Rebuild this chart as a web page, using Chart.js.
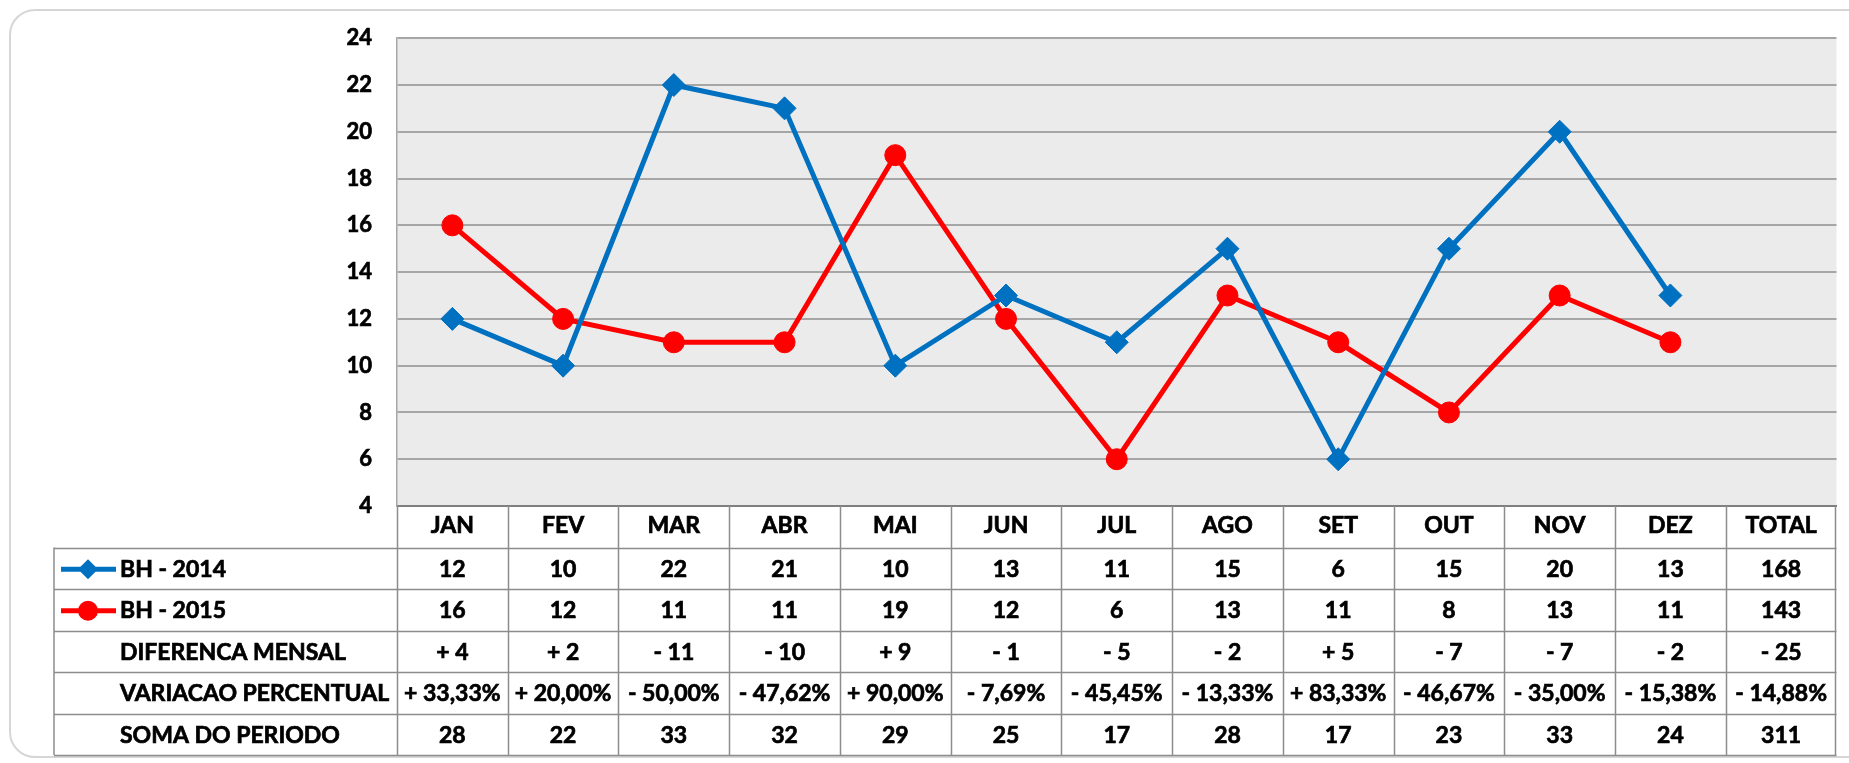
<!DOCTYPE html>
<html lang="pt-BR">
<head>
<meta charset="utf-8">
<title>BH 2014 x BH 2015</title>
<script src="https://cdn.jsdelivr.net/npm/chart.js"></script>
<style>
	html, body { margin: 0; padding: 0; background: #fff; overflow: hidden; }
	#moldura { position: absolute; left: 9px; top: 9px; width: 1900px; height: 745px; border: 2px solid #d6d6d6; border-radius: 26px; }
	#grafico { position: absolute; left: 0; top: 0; }
</style>
</head>
<body>
<div id="moldura"></div>
<canvas id="grafico" width="1849" height="763"></canvas>
<script>

	// Dados do grafico
	const meses = ['JAN', 'FEV', 'MAR', 'ABR', 'MAI', 'JUN', 'JUL', 'AGO', 'SET', 'OUT', 'NOV', 'DEZ', 'TOTAL'];
	const bh2014 = [12, 10, 22, 21, 10, 13, 11, 15, 6, 15, 20, 13];
	const bh2015 = [16, 12, 11, 11, 19, 12, 6, 13, 11, 8, 13, 11];
	const total2014 = 168;
	const total2015 = 143;
	const diferencaMensal = ['+ 4', '+ 2', '- 11', '- 10', '+ 9', '- 1', '- 5', '- 2', '+ 5', '- 7', '- 7', '- 2', '- 25'];
	const variacaoPercentual = ['+ 33,33%', '+ 20,00%', '- 50,00%', '- 47,62%', '+ 90,00%', '- 7,69%', '- 45,45%', '- 13,33%', '+ 83,33%', '- 46,67%', '- 35,00%', '- 15,38%', '- 14,88%'];
	const somaPeriodo = [28, 22, 33, 32, 29, 25, 17, 28, 17, 23, 33, 24, 311];
	const eixoYMin = 4;
	const eixoYMax = 24;

	const azul = '#0070c0';
	const vermelho = '#ff0000';
	const fonte = 'Lato';

	// Fundo cinza da area do grafico
	const fundoArea = {
		id: 'fundoArea',
		beforeDraw(chart){
			let a = chart.chartArea;
			chart.ctx.save();
			chart.ctx.fillStyle = '#ebebeb';
			chart.ctx.fillRect(a.left, a.top, a.right - a.left, a.bottom - a.top);
			chart.ctx.restore();
		}
	};

	// Simbolo da legenda dentro da tabela
	const desenharSimbolo = function(ctx, cor, estilo, cx, cy){
		ctx.save();
		ctx.strokeStyle = cor;
		ctx.fillStyle = cor;
		ctx.lineWidth = 5;
		ctx.beginPath();
		ctx.moveTo(cx - 27, cy);
		ctx.lineTo(cx + 28, cy);
		ctx.stroke();
		ctx.beginPath();
		if(estilo == 'rectRot'){
			ctx.moveTo(cx - 10, cy);
			ctx.lineTo(cx, cy - 10);
			ctx.lineTo(cx + 10, cy);
			ctx.lineTo(cx, cy + 10);
			ctx.closePath();
		}else{
			ctx.arc(cx, cy, 10, 0, Math.PI * 2);
		}
		ctx.fill();
		ctx.restore();
	};

	// Texto um pouco mais grosso, parecido com o Calibri negrito
	const textoNegrito = function(ctx, texto, px, py){
		ctx.fillText(texto, px, py);
		ctx.strokeText(texto, px, py);
	};

	// Tabela de dados abaixo do grafico
	const tabelaDados = {
		id: 'tabelaDados',
		afterDraw(chart){
			let ctx = chart.ctx;
			let x = chart.scales.x;
			let a = chart.chartArea;
			let meia = (x.getPixelForValue(1) - x.getPixelForValue(0)) / 2;
			let alturaLinha = (763 - 8 - a.bottom) / 6;
			let topo = a.bottom;
			let esquerda = 54;
			let direita = x.getPixelForValue(meses.length - 1) + meia;

			let linhas = [
				{ rotulo: 'BH - 2014', valores: bh2014.concat([total2014]), cor: azul, estilo: 'rectRot' },
				{ rotulo: 'BH - 2015', valores: bh2015.concat([total2015]), cor: vermelho, estilo: 'circle' },
				{ rotulo: 'DIFERENCA MENSAL', valores: diferencaMensal },
				{ rotulo: 'VARIACAO PERCENTUAL', valores: variacaoPercentual },
				{ rotulo: 'SOMA DO PERIODO', valores: somaPeriodo }
			];
			let fundo = topo + alturaLinha * (linhas.length + 1);

			ctx.save();
			ctx.strokeStyle = '#8c8c8c';
			ctx.lineWidth = 1.5;

			// Linhas verticais
			for(let i = 0; i <= meses.length; i++){
				let px = Math.round(x.getPixelForValue(i) - meia) + 0.5;
				if(i == meses.length) px = direita - 1;
				ctx.beginPath();
				ctx.moveTo(px, topo);
				ctx.lineTo(px, fundo);
				ctx.stroke();
			}
			ctx.beginPath();
			ctx.moveTo(esquerda, topo + alturaLinha);
			ctx.lineTo(esquerda, fundo);
			ctx.stroke();

			// Linhas horizontais
			for(let r = 1; r <= linhas.length + 1; r++){
				let py = Math.round(topo + alturaLinha * r) + 0.5;
				ctx.beginPath();
				ctx.moveTo(esquerda, py);
				ctx.lineTo(direita, py);
				ctx.stroke();
			}

			// Textos
			ctx.font = 'bold 23px ' + fonte;
			ctx.textBaseline = 'middle';
			linhas.forEach(function(linha, r){
				let cy = topo + alturaLinha * (r + 1.5) + 1;
				if(linha.cor){
					desenharSimbolo(ctx, linha.cor, linha.estilo, 88, cy);
				}
				ctx.fillStyle = '#000';
				ctx.strokeStyle = '#000';
				ctx.lineWidth = 0.7;
				ctx.textAlign = 'left';
				textoNegrito(ctx, linha.rotulo, 120, cy);
				ctx.textAlign = 'center';
				linha.valores.forEach(function(v, i){
					textoNegrito(ctx, String(v), x.getPixelForValue(i), cy);
				});
			});
			ctx.restore();
		}
	};

	const grafico = new Chart(document.getElementById('grafico').getContext('2d'), {
		type: 'line',
		data: {
			labels: meses,
			datasets: [
				{
					label: 'BH - 2014',
					data: bh2014,
					borderColor: azul,
					backgroundColor: azul,
					borderWidth: 5,
					pointStyle: 'rectRot',
					pointRadius: 11.5,
					pointBorderWidth: 1,
					tension: 0
				},
				{
					label: 'BH - 2015',
					data: bh2015,
					borderColor: vermelho,
					backgroundColor: vermelho,
					borderWidth: 5,
					pointStyle: 'circle',
					pointRadius: 10.5,
					pointBorderWidth: 1,
					tension: 0
				}
			]
		},
		options: {
			responsive: false,
			animation: false,
			layout: { padding: { top: 38, left: 0, right: 1, bottom: 0 } },
			plugins: {
				legend: { display: false },
				tooltip: { enabled: false }
			},
			scales: {
				x: {
					offset: true,
					grid: { display: false, drawTicks: false },
					border: { display: true, color: '#7f7f7f', width: 2 },
					ticks: {
						color: '#000',
						textStrokeColor: '#000',
						textStrokeWidth: 0.7,
						padding: 6,
						maxRotation: 0,
						autoSkip: false,
						font: { family: fonte, size: 23, weight: 'bold' }
					},
					afterFit: function(escala){ escala.height = 257; }
				},
				y: {
					min: eixoYMin,
					max: eixoYMax,
					grid: {
						drawTicks: false,
						color: function(c){ return c.tick.value % 2 == 0 ? '#a6a6a6' : '#c9c9c9'; },
						lineWidth: function(c){ return c.tick.value % 2 == 0 ? 2 : 1.5; }
					},
					border: { display: true, color: '#a6a6a6', width: 1.5 },
					ticks: {
						stepSize: 1,
						color: '#000',
						textStrokeColor: '#000',
						textStrokeWidth: 0.7,
						padding: 25,
						font: { family: fonte, size: 22, weight: 'bold' },
						callback: function(v){ return v % 2 == 0 ? v : ''; }
					},
					afterFit: function(escala){ escala.width = 397; }
				}
			}
		},
		plugins: [fundoArea, tabelaDados]
	});

</script>
</body>
</html>
